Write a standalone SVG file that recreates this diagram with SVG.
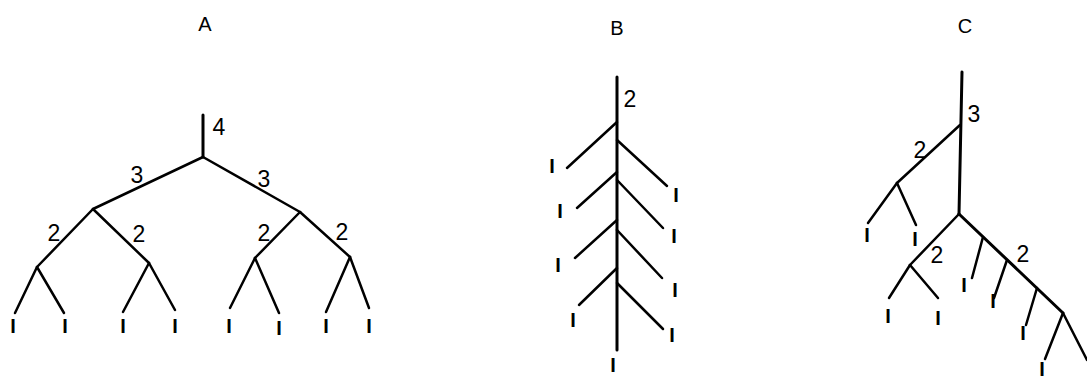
<svg xmlns="http://www.w3.org/2000/svg" width="1087" height="380" viewBox="0 0 1087 380">
<style>
.bg{fill:#fff}
.e{stroke:#000;stroke-width:2.5;stroke-linecap:round;fill:none}
.t{stroke:#000;stroke-width:3;stroke-linecap:round;fill:none}
.lbl{font-family:"Liberation Sans",Arial,sans-serif;font-size:23px;fill:#000;text-anchor:middle}
.leaf{font-family:"Liberation Sans",Arial,sans-serif;font-size:20px;font-weight:bold;fill:#000;text-anchor:middle}
.ttl{font-family:"Liberation Sans",Arial,sans-serif;font-size:20px;fill:#000;text-anchor:middle}
</style>
<rect class="bg" x="0" y="0" width="1087" height="380"/>
<g id="connectors">
  <line class="t" x1="203" y1="115" x2="203" y2="157"/>
  <line class="e" x1="203" y1="157" x2="93" y2="209"/>
  <line class="e" x1="203" y1="157" x2="300" y2="212"/>
  <line class="e" x1="93" y1="209" x2="37" y2="267"/>
  <line class="e" x1="93" y1="209" x2="149" y2="263"/>
  <line class="e" x1="300" y1="212" x2="255" y2="258"/>
  <line class="e" x1="300" y1="212" x2="350" y2="257"/>
  <line class="e" x1="37" y1="267" x2="15" y2="313"/>
  <line class="e" x1="37" y1="267" x2="64" y2="313"/>
  <line class="e" x1="149" y1="263" x2="123" y2="312"/>
  <line class="e" x1="149" y1="263" x2="175" y2="310"/>
  <line class="e" x1="255" y1="258" x2="230" y2="308"/>
  <line class="e" x1="255" y1="258" x2="279" y2="313"/>
  <line class="e" x1="350" y1="257" x2="326" y2="312"/>
  <line class="e" x1="350" y1="257" x2="369" y2="308"/>
  <line class="t" x1="617" y1="77" x2="617" y2="350"/>
  <line class="e" x1="617" y1="122" x2="567" y2="168"/>
  <line class="e" x1="617" y1="172" x2="577" y2="208"/>
  <line class="e" x1="617" y1="220" x2="575" y2="258"/>
  <line class="e" x1="617" y1="268" x2="579" y2="305"/>
  <line class="e" x1="617" y1="140" x2="667" y2="186"/>
  <line class="e" x1="617" y1="180" x2="663" y2="228"/>
  <line class="e" x1="617" y1="230" x2="662" y2="278"/>
  <line class="e" x1="617" y1="283" x2="663" y2="329"/>
  <line class="t" x1="962" y1="72" x2="959" y2="214"/>
  <line class="e" x1="960" y1="125" x2="897" y2="183"/>
  <line class="e" x1="897" y1="183" x2="868" y2="223"/>
  <line class="e" x1="897" y1="183" x2="916" y2="225"/>
  <line class="e" x1="959" y1="214" x2="910" y2="265"/>
  <line class="e" x1="910" y1="265" x2="889" y2="298"/>
  <line class="e" x1="910" y1="265" x2="938" y2="298"/>
  <line class="t" x1="959" y1="214" x2="1063" y2="313"/>
  <line class="e" x1="983" y1="237" x2="972" y2="278"/>
  <line class="e" x1="1007" y1="260" x2="994" y2="298"/>
  <line class="e" x1="1037" y1="288" x2="1026" y2="325"/>
  <line class="e" x1="1063" y1="313" x2="1045" y2="359"/>
  <line class="e" x1="1063" y1="313" x2="1087" y2="360"/>
</g>
<g id="titles">
  <text class="ttl" x="205" y="31">A</text>
  <text class="ttl" x="617" y="35">B</text>
  <text class="ttl" x="965" y="33">C</text>
</g>
<g id="treeA">
  <text class="lbl" x="219" y="135">4</text>
  <text class="lbl" x="137" y="183">3</text>
  <text class="lbl" x="264" y="187">3</text>
  <text class="lbl" x="54" y="241">2</text>
  <text class="lbl" x="139" y="242">2</text>
  <text class="lbl" x="264" y="241">2</text>
  <text class="lbl" x="342" y="240">2</text>
  <text class="leaf" x="13" y="333">I</text>
  <text class="leaf" x="65" y="333">I</text>
  <text class="leaf" x="123" y="333">I</text>
  <text class="leaf" x="175" y="333">I</text>
  <text class="leaf" x="229" y="333">I</text>
  <text class="leaf" x="279" y="335">I</text>
  <text class="leaf" x="326" y="333">I</text>
  <text class="leaf" x="369" y="333">I</text>
</g>
<g id="treeB">
  <text class="lbl" x="630" y="107">2</text>
  <text class="leaf" x="552" y="173">I</text>
  <text class="leaf" x="560" y="218">I</text>
  <text class="leaf" x="558" y="272">I</text>
  <text class="leaf" x="573" y="327">I</text>
  <text class="leaf" x="676" y="202">I</text>
  <text class="leaf" x="674" y="243">I</text>
  <text class="leaf" x="675" y="297">I</text>
  <text class="leaf" x="672" y="342">I</text>
  <text class="leaf" x="613" y="372">I</text>
</g>
<g id="treeC">
  <text class="lbl" x="974" y="122">3</text>
  <text class="lbl" x="920" y="158">2</text>
  <text class="lbl" x="937" y="263">2</text>
  <text class="lbl" x="1023" y="262">2</text>
  <text class="leaf" x="867" y="242">I</text>
  <text class="leaf" x="915" y="246">I</text>
  <text class="leaf" x="888" y="323">I</text>
  <text class="leaf" x="938" y="325">I</text>
  <text class="leaf" x="964" y="292">I</text>
  <text class="leaf" x="993" y="308">I</text>
  <text class="leaf" x="1023" y="340">I</text>
  <text class="leaf" x="1042" y="376">I</text>
</g>
</svg>
